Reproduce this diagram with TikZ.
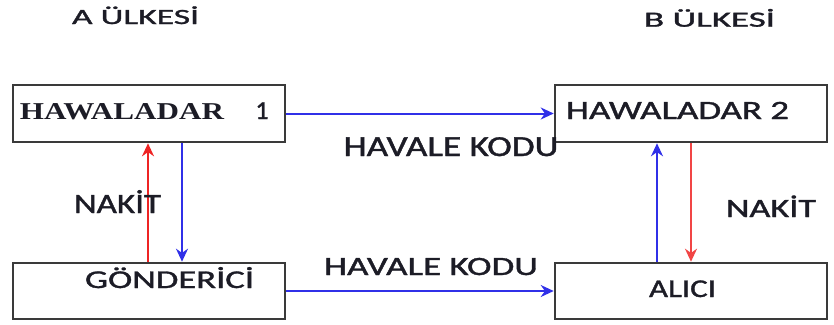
\documentclass[tikz,border=0pt]{standalone}
\usepackage{fontspec}
\usepackage{graphicx}
\usetikzlibrary{arrows.meta}
\newfontfamily\calfont[FakeBold=1.2]{Carlito}
\newfontfamily\serfont{Liberation Serif}
\newsavebox\fitbox
\newcommand\fitw[2]{\sbox\fitbox{#2}\resizebox{#1}{\height}{\usebox\fitbox}}
\definecolor{boxgray}{HTML}{3A3A3A}
\definecolor{txt}{HTML}{1C1C26}
\definecolor{arrblue}{HTML}{3030E8}
\definecolor{arrred}{HTML}{EE2424}
\tikzset{
  box/.style={draw=boxgray, line width=2.6pt, minimum width=272pt, minimum height=57pt, inner sep=0pt},
  lbl/.style={anchor=base, inner sep=0pt, text=txt},
  barrow/.style={draw=arrblue, line width=2pt, -{Stealth[length=13pt,width=12pt]}},
  rarrow/.style={draw=arrred, line width=2pt, -{Stealth[length=13pt,width=12pt]}}
}
\newcommand\fs[1]{\fontsize{#1}{#1}\selectfont}
\begin{document}
\begin{tikzpicture}[x=1pt,y=-1pt]
\useasboundingbox (0,0) rectangle (834,324);
% boxes
\node[box] (h1) at (149,113.5) {};
\node[box] (h2) at (691,113.5) {};
\node[box, minimum height=56pt] (g) at (149,291) {};
\node[box, minimum height=56pt] (a) at (691,291) {};
% x positions for vertical arrows
\coordinate (xl1) at (148,0);
\coordinate (xl2) at (182,0);
\coordinate (xr1) at (657,0);
\coordinate (xr2) at (691,0);
% horizontal arrows
\draw[barrow] (h1.east) -- (h2.west);
\draw[barrow] (g.east) -- (a.west);
% vertical arrows
\draw[rarrow] (g.north -| xl1) -- (h1.south -| xl1);
\draw[barrow] (h1.south -| xl2) -- (g.north -| xl2);
\draw[barrow] (a.north -| xr1) -- (h2.south -| xr1);
\draw[rarrow, draw=arrred!85] (h2.south -| xr2) -- (a.north -| xr2);
% labels
\node[lbl] (ta) at (135.5,24) {\calfont\fs{21.7}\fitw{127pt}{A ÜLKESİ}};
\node[lbl] (tb) at (709.5,26.7) {\calfont\fs{21.7}\fitw{131pt}{B ÜLKESİ}};
\node[lbl] (th1) at (122,119) {\serfont\bfseries\fs{24.2}\fitw{204pt}{HAWALADAR}};
\node[lbl] (th1n) at (262,119) {\calfont\fs{26}1};
\node[lbl] (th2) at (677.5,119) {\calfont\fs{26.4}\fitw{223pt}{HAWALADAR 2}};
\node[lbl] (tk1) at (451,156) {\calfont\fs{29}\fitw{215pt}{HAVALE KODU}};
\node[lbl] (tk2) at (431,275) {\calfont\fs{26.4}\fitw{214pt}{HAVALE KODU}};
\node[lbl] (tn1) at (117.5,213) {\calfont\fs{28}\fitw{87pt}{NAKİT}};
\node[lbl] (tn2) at (771,217) {\calfont\fs{26.4}\fitw{90pt}{NAKİT}};
\node[lbl] (tg) at (169.5,288) {\calfont\fs{25.6}\fitw{169pt}{GÖNDERİCİ}};
\node[lbl] (tal) at (682.5,297) {\calfont\fs{25.6}\fitw{67pt}{ALICI}};
\end{tikzpicture}
\end{document}
